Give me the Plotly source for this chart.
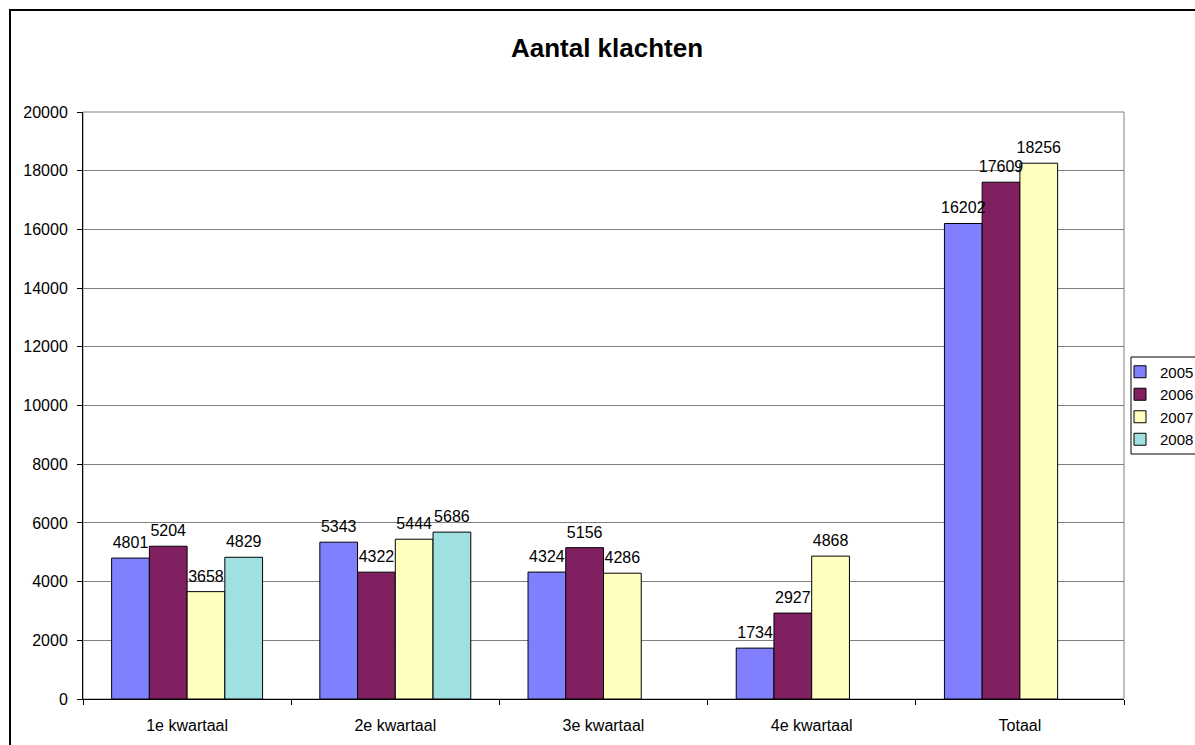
import plotly.graph_objects as go

categories = ["1e kwartaal", "2e kwartaal", "3e kwartaal", "4e kwartaal", "Totaal"]
years = ["2005", "2006", "2007", "2008"]
v2005 = [4801, 5343, 4324, 1734, 16202]
v2006 = [5204, 4322, 5156, 2927, 17609]
v2007 = [3658, 5444, 4286, 4868, 18256]
v2008 = [4829, 5686, None, None, None]
series = [v2005, v2006, v2007, v2008]
colors = ["#8080FF", "#802060", "#FFFFC0", "#A0E0E0"]
y_ticks = list(range(0, 20001, 2000))
title_text = "Aantal klachten"

FONT = "Liberation Sans, Arial, sans-serif"
GAP = 0.275

fig = go.Figure()

# coloured bars
for i, (yr, vals, col) in enumerate(zip(years, series, colors)):
    fig.add_trace(go.Bar(
        name=yr, x=categories, y=vals, offsetgroup=str(i),
        marker=dict(color=col, line=dict(color="#000000", width=1)),
        legendgroup=yr, hoverinfo="skip",
    ))

# data labels drawn on top of every bar (grouped scatter text)
for i, (yr, vals) in enumerate(zip(years, series)):
    fig.add_trace(go.Scatter(
        x=categories, y=vals, mode="text+markers", offsetgroup=str(i),
        marker=dict(size=8, opacity=0),
        text=[("" if v is None else str(v)) for v in vals],
        textposition="top center", cliponaxis=False,
        textfont=dict(family=FONT, size=16, color="#000000"),
        showlegend=False, hoverinfo="skip",
    ))

L, R, T, B = 83, 1124, 112, 699
W, H = 1195, 745
pw, ph = R - L, B - T

def px_x(p):
    return (p - L) / pw

def px_y(p):
    return 1 - (p - T) / ph

shapes = [
    # plot area border (gray)
    dict(type="rect", xref="paper", yref="paper", x0=0, x1=1, y0=0, y1=1,
         line=dict(color="#808080", width=1), layer="below"),
    # outer chart frame
    dict(type="rect", xref="paper", yref="paper",
         x0=px_x(10), x1=px_x(1230), y0=px_y(780), y1=px_y(10),
         line=dict(color="#000000", width=2), layer="above"),
    # legend frame
    dict(type="rect", xref="paper", yref="paper",
         x0=px_x(1131), x1=px_x(1215), y0=px_y(454), y1=px_y(357),
         line=dict(color="#000000", width=1), layer="above"),
]

fig.update_layout(
    width=W, height=H,
    margin=dict(l=L, r=W - R, t=T, b=H - B, pad=0, autoexpand=False),
    paper_bgcolor="white", plot_bgcolor="white",
    font=dict(family=FONT, size=16, color="#000000"),
    title=dict(text="<b>" + title_text + "</b>", x=px_x(607), xref="paper",
               y=1 - 48 / H, yref="container", xanchor="center", yanchor="middle",
               font=dict(family=FONT, size=26, color="#000000")),
    barmode="group", bargap=GAP, bargroupgap=0,
    scattermode="group", scattergap=GAP,
    showlegend=True,
    legend=dict(x=px_x(1120), xanchor="left", y=0.5, yanchor="middle",
                bgcolor="rgba(0,0,0,0)", borderwidth=0,
                font=dict(family=FONT, size=15, color="#000000"),
                traceorder="normal", itemwidth=30),
    shapes=shapes,
    xaxis=dict(
        type="category", showline=True, linecolor="#000000", linewidth=1,
        ticks="outside", tickson="boundaries", ticklen=5, tickcolor="#000000",
        showgrid=False, ticklabelstandoff=12,
        tickfont=dict(family=FONT, size=16, color="#000000"),
        fixedrange=True,
    ),
    yaxis=dict(
        range=[0, 20000], tickvals=y_ticks, tickformat="d",
        showline=True, linecolor="#000000", linewidth=1,
        ticks="outside", ticklen=5, tickcolor="#000000",
        showgrid=True, gridcolor="#808080", gridwidth=1, zeroline=False,
        ticklabelstandoff=6,
        tickfont=dict(family=FONT, size=16, color="#000000"),
        fixedrange=True,
    ),
)

fig.write_html("out.html", config={"displayModeBar": False},
               post_script="document.body.style.margin='0';document.body.style.overflow='hidden';")
